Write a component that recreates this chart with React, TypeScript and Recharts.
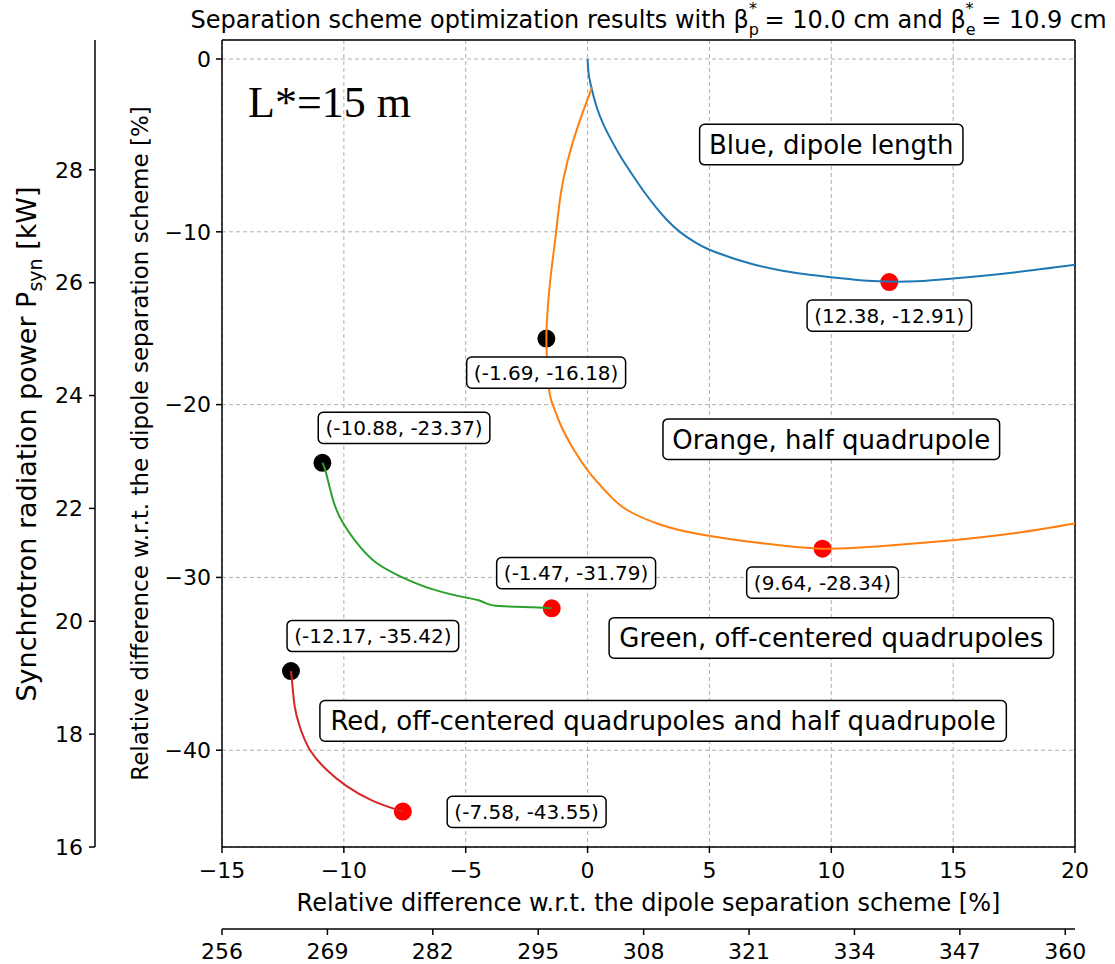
import React from 'react';
import { ComposedChart, Line, XAxis, YAxis, CartesianGrid, ReferenceLine } from 'recharts';

// curves (x = % difference, y = % difference)
const BLUE_X = [0, 0.04, 0.15, 0.37, 0.64, 0.97, 1.36, 1.79, 2.25, 2.75, 3.25, 3.8, 4.4, 5.0, 5.9, 6.9, 8.0, 9.1, 10.5, 11.5, 12.38, 13.5, 15, 17.5, 20];
const BLUE_Y = [0, -0.8, -1.6, -2.76, -3.75, -4.68, -5.66, -6.6, -7.55, -8.48, -9.3, -10.02, -10.6, -11.04, -11.5, -11.92, -12.25, -12.48, -12.7, -12.83, -12.88, -12.86, -12.7, -12.35, -11.91];

const ORANGE_X = [0.18, -0.4, -0.81, -1.1, -1.29, -1.43, -1.58, -1.66, -1.69, -1.66, -1.56, -1.35, -1.08, -0.57, 0.08, 0.8, 1.59, 3.0, 4.6, 7.0, 9.64, 12.0, 15.0, 17.5, 20];
const ORANGE_Y = [-1.64, -3.9, -5.84, -7.8, -10.0, -11.6, -13.5, -15.0, -16.18, -17.6, -19.33, -20.3, -21.25, -22.6, -23.95, -25.1, -26.07, -26.95, -27.5, -28.0, -28.34, -28.2, -27.85, -27.45, -26.88];

const GREEN_X = [-10.88, -10.73, -10.45, -10.04, -9.36, -8.67, -7.71, -6.34, -4.98, -4.5, -4.16, -3.61, -2.24, -1.47];
const GREEN_Y = [-23.37, -23.95, -25.49, -26.84, -28.19, -29.15, -29.92, -30.69, -31.17, -31.31, -31.5, -31.66, -31.73, -31.79];

const RED_X = [-12.17, -12.12, -12.02, -11.82, -11.41, -10.73, -9.9, -8.81, -7.58];
const RED_Y = [-35.42, -36.09, -37.43, -38.58, -39.94, -41.1, -42.06, -42.93, -43.55];

// start points (black) and optimum points (red)
const START_X = [-1.69, -10.88, -12.17];
const START_Y = [-16.18, -23.37, -35.42];
const OPT_X = [12.38, 9.64, -1.47, -7.58];
const OPT_Y = [-12.91, -28.34, -31.79, -43.55];

// coordinate annotations
const NOTE_TEXT = ['(12.38, -12.91)', '(-1.69, -16.18)', '(-10.88, -23.37)', '(9.64, -28.34)', '(-1.47, -31.79)', '(-12.17, -35.42)', '(-7.58, -43.55)'];
const NOTE_X = [12.38, -1.7, -7.53, 9.64, -0.47, -8.81, -2.5];
const NOTE_Y = [-14.85, -18.15, -21.35, -30.3, -29.75, -33.39, -43.57];

// scheme labels
const SCHEME_TEXT = ['Blue, dipole length', 'Orange, half quadrupole', 'Green, off-centered quadrupoles', 'Red, off-centered quadrupoles and half quadrupole'];
const SCHEME_X = [10, 10, 10, 3.1];
const SCHEME_Y = [-4.95, -22, -33.5, -38.3];

const X_DOMAIN = [-15, 20];
const Y_DOMAIN = [-45.6, 1.1];
const POWER_X_DOMAIN = [256, 361.2];
const POWER_Y_DOMAIN = [16, 30.3];
const X_TICKS = [-15, -10, -5, 0, 5, 10, 15, 20];
const Y_TICKS = [0, -10, -20, -30, -40];
const POWER_TICKS = [16, 18, 20, 22, 24, 26, 28];
const POWER_X_TICKS = [256, 269, 282, 295, 308, 321, 334, 347, 360];

const zip = (xs: number[], ys: number[]) => xs.map((x, i) => ({ x, y: ys[i] }));
const zipText = (xs: number[], ys: number[], t: string[]) => xs.map((x, i) => ({ x, y: ys[i], text: t[i] }));
// each point becomes a zero-length segment, drawn as a round-capped dot
const dots = (xs: number[], ys: number[]) =>
  xs.flatMap((x, i) => [{ x, y: ys[i] }, { x, y: ys[i] }, { x, y: null }]);

const blue = zip(BLUE_X, BLUE_Y);
const orange = zip(ORANGE_X, ORANGE_Y);
const green = zip(GREEN_X, GREEN_Y);
const red = zip(RED_X, RED_Y);
const starts = dots(START_X, START_Y);
const optima = dots(OPT_X, OPT_Y);
const notes = zipText(NOTE_X, NOTE_Y, NOTE_TEXT);
const schemes = zipText(SCHEME_X, SCHEME_Y, SCHEME_TEXT);
const powerFrame = [
  { px: POWER_X_DOMAIN[0], py: POWER_Y_DOMAIN[0] },
  { px: POWER_X_DOMAIN[1], py: POWER_Y_DOMAIN[1] },
];

// rough DejaVu Sans advance widths (em)
const CW: Record<string, number> = {
  '(': 0.39, ')': 0.39, ',': 0.318, '.': 0.318, ' ': 0.318, '-': 0.361,
  a: 0.613, b: 0.635, c: 0.55, d: 0.635, e: 0.615, f: 0.352, g: 0.635, h: 0.634, i: 0.278,
  l: 0.278, n: 0.634, o: 0.612, p: 0.635, q: 0.635, r: 0.411, s: 0.521, t: 0.392, u: 0.634,
  B: 0.686, O: 0.787, G: 0.775, R: 0.695,
};
const textWidth = (s: string, size: number) =>
  s.split('').reduce((w, ch) => w + (CW[ch] ?? (/[0-9]/.test(ch) ? 0.636 : 0.6)), 0) * size;

const minus = (v: number) => String(v).replace('-', '\u2212');

const makeBox = (size: number) => (p: any) => {
  const text = p.payload.text;
  const w = textWidth(text, size) + size * 0.72;
  const h = size * 1.56;
  return (
    <g key={p.key}>
      <rect x={p.cx - w / 2} y={p.cy - h / 2} width={w} height={h} rx={5} fill="#fff" stroke="#000" strokeWidth={1.5} />
      <text x={p.cx} y={p.cy + size * 0.36} textAnchor="middle" fontSize={size} fill="#000" fontFamily="DejaVu Sans">
        {text}
      </text>
    </g>
  );
};

const tickStyle = { fontSize: 22, fill: '#000', fontFamily: 'DejaVu Sans' };
const axisStroke = '#000';

export default function App() {
  return (
    <div style={{ position: 'absolute', left: 0, top: 0, width: 1115, height: 964, background: '#fff', fontFamily: 'DejaVu Sans' }}>
      <ComposedChart width={1115} height={964} margin={{ top: 40, right: 40, bottom: 0, left: 0 }}>
        <XAxis xAxisId="main" type="number" dataKey="x" domain={X_DOMAIN} ticks={X_TICKS} allowDataOverflow
          height={82} tick={tickStyle} tickSize={6} tickMargin={9} tickFormatter={minus}
          stroke={axisStroke} strokeWidth={1.5} />
        <XAxis xAxisId="power" type="number" dataKey="px" domain={POWER_X_DOMAIN} ticks={POWER_X_TICKS} allowDataOverflow
          interval={0} height={35} tick={tickStyle} tickSize={6} tickMargin={8} stroke={axisStroke} strokeWidth={1.5} />
        <YAxis yAxisId="main" type="number" domain={Y_DOMAIN} ticks={Y_TICKS} allowDataOverflow
          width={127} tick={tickStyle} tickSize={6} tickMargin={5} tickFormatter={minus}
          stroke={axisStroke} strokeWidth={1.5} />
        <YAxis yAxisId="power" type="number" domain={POWER_Y_DOMAIN} ticks={POWER_TICKS} allowDataOverflow
          width={95} tick={tickStyle} tickSize={6} tickMargin={6} stroke={axisStroke} strokeWidth={1.5} />
        <CartesianGrid xAxisId="main" yAxisId="main" strokeDasharray="4 3" stroke="#b0b0b0" />
        <ReferenceLine xAxisId="main" yAxisId="main" x={X_DOMAIN[1]} stroke={axisStroke} strokeWidth={1.5} />
        <ReferenceLine xAxisId="main" yAxisId="main" y={Y_DOMAIN[1]} stroke={axisStroke} strokeWidth={1.5} />

        <Line xAxisId="power" yAxisId="power" data={powerFrame} dataKey="py" stroke="none" dot={false} activeDot={false} isAnimationActive={false} />

        <Line xAxisId="main" yAxisId="main" data={starts} dataKey="y" type="linear" stroke="#000" strokeWidth={18} strokeLinecap="round" connectNulls={false} dot={false} activeDot={false} isAnimationActive={false} />
        <Line xAxisId="main" yAxisId="main" data={optima} dataKey="y" type="linear" stroke="#ff0000" strokeWidth={18} strokeLinecap="round" connectNulls={false} dot={false} activeDot={false} isAnimationActive={false} />

        <Line xAxisId="main" yAxisId="main" data={blue} dataKey="y" type="natural" stroke="#1f77b4" strokeWidth={2} dot={false} activeDot={false} isAnimationActive={false} />
        <Line xAxisId="main" yAxisId="main" data={orange} dataKey="y" type="natural" stroke="#ff7f0e" strokeWidth={2} dot={false} activeDot={false} isAnimationActive={false} />
        <Line xAxisId="main" yAxisId="main" data={green} dataKey="y" type="natural" stroke="#2ca02c" strokeWidth={2} dot={false} activeDot={false} isAnimationActive={false} />
        <Line xAxisId="main" yAxisId="main" data={red} dataKey="y" type="natural" stroke="#d62728" strokeWidth={2} dot={false} activeDot={false} isAnimationActive={false} />

        <Line xAxisId="main" yAxisId="main" data={notes} dataKey="y" stroke="none" dot={makeBox(20)} activeDot={false} isAnimationActive={false} />
        <Line xAxisId="main" yAxisId="main" data={schemes} dataKey="y" stroke="none" dot={makeBox(26)} activeDot={false} isAnimationActive={false} />
      </ComposedChart>

      <svg width={1115} height={964} style={{ position: 'absolute', left: 0, top: 0, pointerEvents: 'none' }}>
        <text x={648.5} y={28} textAnchor="middle" fontSize={24} fill="#000">
          Separation scheme optimization results with β
          <tspan dy={7} fontSize={16}>p</tspan>
          <tspan dx={-10} dy={-21} fontSize={16}>*</tspan>
          <tspan dy={14}> = 10.0 cm and β</tspan>
          <tspan dy={7} fontSize={16}>e</tspan>
          <tspan dx={-10} dy={-21} fontSize={16}>*</tspan>
          <tspan dy={14}> = 10.9 cm</tspan>
        </text>
        <text x={648.5} y={911} textAnchor="middle" fontSize={24} fill="#000">
          Relative difference w.r.t. the dipole separation scheme [%]
        </text>
        <text transform="translate(148,443.5) rotate(-90)" textAnchor="middle" fontSize={23} fill="#000">
          Relative difference w.r.t. the dipole separation scheme [%]
        </text>
        <text transform="translate(36,444) rotate(-90)" textAnchor="middle" fontSize={27} fill="#000">
          Synchrotron radiation power P<tspan dy={6} fontSize={19}>syn</tspan>
          <tspan dy={-6}> [kW]</tspan>
        </text>
        <text x={248} y={117} fontSize={44} fontFamily="Liberation Serif" fill="#000">L*=15 m</text>
      </svg>
    </div>
  );
}
